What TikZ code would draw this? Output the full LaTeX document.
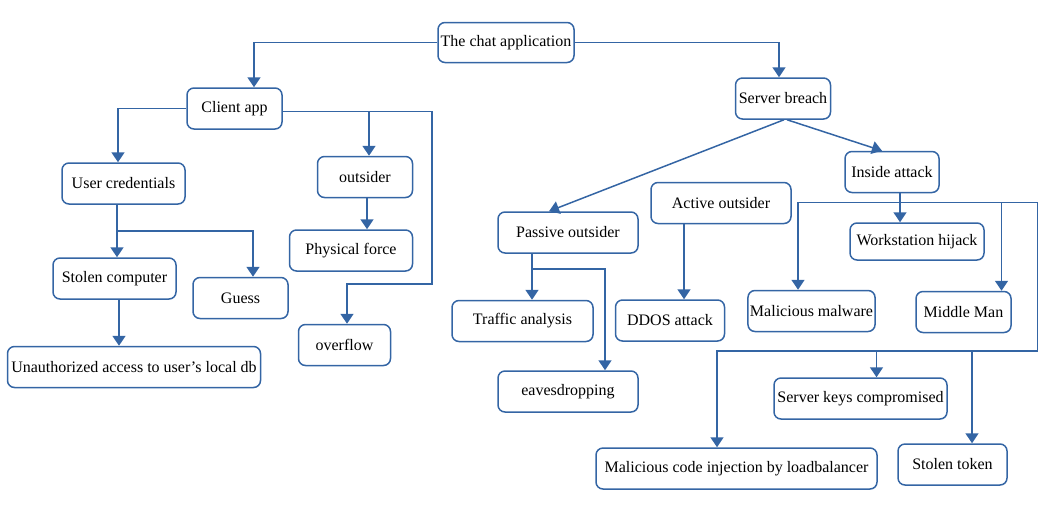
\documentclass[tikz,border=0pt]{standalone}
\usepackage{fontspec}
\setmainfont{Liberation Serif}
\usetikzlibrary{arrows.meta}
\definecolor{linecol}{HTML}{3465A4}
\tikzset{
    box/.style={rectangle, rounded corners=7pt, draw=linecol, line width=1.5pt, minimum width=#1, minimum height=41pt, inner sep=2pt, align=center, font=\fontsize{16}{19}\selectfont},
    box/.default=94pt,
    link/.style={draw=linecol, line width=1.5pt, ->}
}

\begin{document}
\begin{tikzpicture}[x=1pt, y=-1pt, >={Triangle[width=13pt,length=10pt]}]
        \useasboundingbox (0,0) rectangle (1048,528);

        % Raiz
        \node[box=136pt, minimum height=40pt] (chat) at (506,42.5) {The chat application};

        % Rama del cliente
        \node[box=95pt] (client) at (234.5,108.5) {Client app};
        \node[box=123pt] (cred) at (123.5,183.5) {User credentials};
        \node[box=95pt] (outsider) at (365,177) {outsider};
        \node[box=123pt] (physical) at (351,250.5) {Physical force};
        \node[box=123pt] (stolen) at (114.5,278.5) {Stolen computer};
        \node[box=95pt] (guess) at (240.5,298) {Guess};
        \node[box=92pt] (overflow) at (344.5,345) {overflow};
        \node[box=253pt] (unauth) at (134,367) {Unauthorized access to user’s local db};

        % Rama del servidor
        \node[box=95pt] (server) at (783,98.5) {Server breach};
        \node[box] (inside) at (892,172) {Inside attack};
        \node[box=140pt] (passive) at (568,232.5) {Passive outsider};
        \node[box=140pt] (active) at (721,203) {Active outsider};
        \node[box=134pt, minimum height=37pt] (hijack) at (917,241.5) {Workstation hijack};
        \node[box=141pt] (traffic) at (522.5,321) {Traffic analysis};
        \node[box=109pt] (ddos) at (670,320.5) {DDOS attack};
        \node[box=127pt] (malware) at (811.5,311) {Malicious malware};
        \node[box=95pt] (middle) at (963.5,312) {Middle Man};
        \node[box=140pt] (eaves) at (568,391.5) {eavesdropping};
        \node[box=173pt] (keys) at (860.5,398.5) {Server keys compromised};
        \node[box=281pt] (inject) at (736.5,468.5) {Malicious code injection by loadbalancer};
        \node[box=109pt] (token) at (952.5,464.5) {Stolen token};

        % Puntos de bifurcacion
        \coordinate (cfork) at (369,112);
        \coordinate (cbend) at (432,284);
        \coordinate (ufork) at (117,231);
        \coordinate (pfork) at (532,269);
        \coordinate (ileft) at (798,202.5);
        \coordinate (iright) at (1037.5,202.5);
        \coordinate (mfork) at (1001.5,202.5);
        \coordinate (ibend) at (1037.5,351);
        \coordinate (kfork) at (876.5,351);
        \coordinate (tfork) at (972,351);

        % Conexiones
        \draw[link] (chat.west) -| ([xshift=19.5pt]client.north);
        \draw[link] (chat.east) -| ([xshift=-4pt]server.north);

        \draw[link] (client.west) -| ([xshift=-5.5pt]cred.north);
        \draw[link] ([yshift=-3pt]client.east) -| (cbend) -| ([xshift=2.5pt]overflow.north);
        \draw[link] (cfork) -- (cfork |- outsider.north);
        \draw[link] ([xshift=2pt]outsider.south) -- ([xshift=2pt]outsider.south |- physical.north);
        \draw[link] ([xshift=-6.5pt]cred.south) -- ([xshift=-6.5pt]cred.south |- stolen.north);
        \draw[link] (ufork) -| ([xshift=12.5pt]guess.north);
        \draw[link] ([xshift=4.5pt]stolen.south) -- ([xshift=4.5pt]stolen.south |- unauth.north);

        \draw[link] ([xshift=1pt]server.south) -- ([xshift=-19pt]passive.north);
        \draw[link] ([xshift=4pt]server.south) -- ([xshift=-10pt]inside.north);
        \draw[link] ([xshift=-36pt]passive.south) -- ([xshift=-36pt]passive.south |- traffic.north);
        \draw[link] (pfork) -| ([xshift=37pt]eaves.north);
        \draw[link] ([xshift=-37pt]active.south) -- ([xshift=-37pt]active.south |- ddos.north);
        \draw[link] ([xshift=8pt]inside.south) -- ([xshift=8pt]inside.south |- hijack.north);
        \draw[link] (iright) -- (ileft) -- (ileft |- malware.north);
        \draw[link] (mfork) -- (mfork |- middle.north);
        \draw[link] (iright) -- (ibend) -| ([xshift=-19.5pt]inject.north);
        \draw[link] (kfork) -- (kfork |- keys.north);
        \draw[link] (tfork) -- (tfork |- token.north);
    \end{tikzpicture}
\end{document}
